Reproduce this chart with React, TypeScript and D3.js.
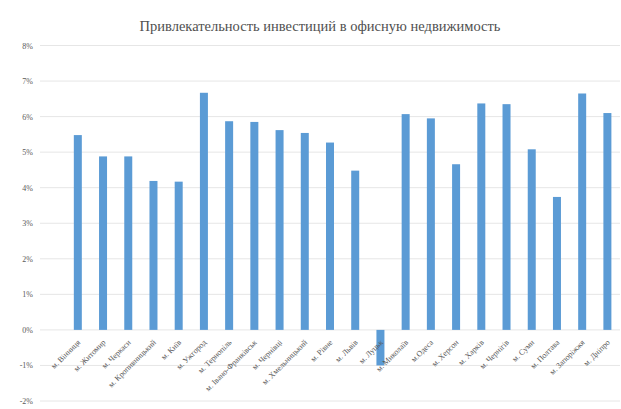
import React from "react";
import * as d3 from "d3";

const title = "Привлекательность инвестиций в офисную недвижимость";
const cities = [
  "м. Вінниця", "м. Житомир", "м. Черкаси", "м. Кропивницький", "м. Київ",
  "м. Ужгород", "м. Тернопіль", "м. Івано-Франківськ", "м. Чернівці",
  "м. Хмельницький", "м. Рівне", "м. Львів", "м. Луцьк", "м. Миколаїв",
  "м.Одеса", "м. Херсон", "м. Харків", "м. Чернігів", "м. Суми",
  "м. Полтава", "м. Запоріжжя", "м. Дніпро",
];
const values = [
  5.48, 4.88, 4.88, 4.19, 4.17, 6.67, 5.87, 5.85, 5.62, 5.54, 5.27, 4.48,
  -1.0, 6.07, 5.95, 4.66, 6.37, 6.35, 5.08, 3.74, 6.65, 6.1,
];
const yTicks = [-2, -1, 0, 1, 2, 3, 4, 5, 6, 7, 8];

const W = 621, H = 409;
const left = 40, right = 620, top = 45.5, bottom = 401;

export default function App() {
  const domain = ["__blank__", ...cities];
  const x = d3.scaleBand().domain(domain).range([left, right]).paddingInner(0).paddingOuter(0);
  const y = d3.scaleLinear().domain([-2, 8]).range([bottom, top]);
  const bw = 8;
  const font = "'Liberation Serif', 'DejaVu Serif', serif";
  return (
    <svg width={W} height={H} style={{ position: "absolute", left: 0, top: 0, background: "#fff" }}>
      <rect x={0} y={0} width={W} height={H} fill="#fff" />
      <text x={320} y={31} textAnchor="middle" fontFamily={font} fontSize={14.5} fill="#505050">{title}</text>
      {yTicks.map((t) => (
        <g key={t}>
          <line x1={left} x2={right} y1={y(t)} y2={y(t)} stroke="#e6e6e6" strokeWidth={1} />
          <text x={33} y={y(t) + 3} textAnchor="end" fontFamily={font} fontSize={8} fill="#595959">{t + "%"}</text>
        </g>
      ))}
      {cities.map((c, i) => {
        const cx = (x(c) as number) + x.bandwidth() / 2;
        const v = values[i];
        const y0 = y(0), y1 = y(v);
        return (
          <rect key={c} x={cx - bw / 2} y={Math.min(y0, y1)} width={bw} height={Math.abs(y1 - y0)} fill="#5B9BD5" />
        );
      })}
      {cities.map((c) => {
        const cx = (x(c) as number) + x.bandwidth() / 2;
        return (
          <text key={"l" + c} transform={`translate(${cx + 3},${y(0) + 13}) rotate(-45)`} textAnchor="end"
            fontFamily={font} fontSize={8} fill="#595959">{c}</text>
        );
      })}
    </svg>
  );
}
